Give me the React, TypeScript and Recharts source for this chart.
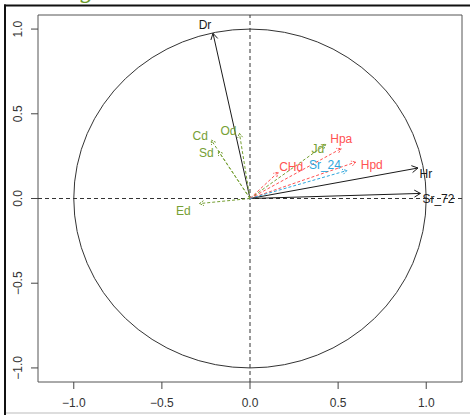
import React from 'react';
import { ComposedChart, XAxis, YAxis, Scatter, ReferenceLine, ReferenceArea } from 'recharts';

// ---- data ----
const variableNames = ['Dr', 'Hr', 'Sr_72', 'Cd', 'Od', 'Sd', 'Ed', 'Jd', 'Hpa', 'Hpd', 'CHd', 'Sr_24'];
const dim1 = [-0.21, 0.953, 0.967, -0.22, -0.06, -0.18, -0.287, 0.43, 0.518, 0.6, 0.16, 0.55];
const dim2 = [0.975, 0.18, 0.03, 0.345, 0.385, 0.28, -0.03, 0.32, 0.295, 0.215, 0.155, 0.165];
const variableGroups = ['active', 'active', 'active', 'green', 'green', 'green', 'green', 'green', 'red', 'red', 'red', 'blue'];
const xTicks = [-1, -0.5, 0, 0.5, 1];
const yTicks = [-1, -0.5, 0, 0.5, 1];
const xDomain = [-1.203, 1.203];
const yDomain = [-1.083, 1.083];

// ---- styles ----
const groupStyle: Record<string, { color: string; dash?: string; head: number }> = {
  active: { color: '#1a1a1a', head: 7 },
  green: { color: '#76a034', dash: '3 2', head: 5 },
  red: { color: '#ff5252', dash: '3 2', head: 5 },
  blue: { color: '#2ea6dc', dash: '3 2', head: 5 },
};

const labelNudge: Record<string, [number, number]> = {
  Dr: [-8, -8],
  Hr: [8, 6],
  Sr_72: [18, 6],
  Cd: [-11, -4],
  Od: [-11, -2],
  Sd: [-12, 2],
  Ed: [-16, 7],
  Jd: [-8, 5],
  Hpa: [0, -10],
  Hpd: [16, 3],
  CHd: [13, -5],
  Sr_24: [-22, -6],
};

const points = variableNames.map((name, i) => ({ name, x: dim1[i], y: dim2[i], group: variableGroups[i] }));

const fmt = (v: number) => (v < 0 ? '\u2212' : '') + Math.abs(v).toFixed(1);

const makeArrow = (group: string) => (p: any) => {
  const st = groupStyle[group];
  const { x1, y1, x2, y2 } = p;
  const a = Math.atan2(y2 - y1, x2 - x1);
  const L = st.head;
  const s = Math.PI / 6;
  const hx1 = x2 - L * Math.cos(a - s);
  const hy1 = y2 - L * Math.sin(a - s);
  const hx2 = x2 - L * Math.cos(a + s);
  const hy2 = y2 - L * Math.sin(a + s);
  return (
    <g>
      <line x1={x1} y1={y1} x2={x2} y2={y2} stroke={st.color} strokeWidth={1} strokeDasharray={st.dash} />
      <path d={`M${hx1},${hy1}L${x2},${y2}L${hx2},${hy2}`} fill="none" stroke={st.color} strokeWidth={1} strokeDasharray={st.dash ? '2 1' : undefined} />
    </g>
  );
};

const CircleShape = (p: any) => {
  const { x1, y1, x2, y2 } = p;
  return (
    <ellipse
      cx={(x1 + x2) / 2}
      cy={(y1 + y2) / 2}
      rx={Math.abs(x2 - x1) / 2}
      ry={Math.abs(y2 - y1) / 2}
      fill="none"
      stroke="#333"
      strokeWidth={1}
    />
  );
};

const LabelShape = (p: any) => {
  const { cx, cy, payload } = p;
  const nudge = labelNudge[payload.name] || [0, 0];
  const st = groupStyle[payload.group];
  return (
    <text
      x={cx + nudge[0]}
      y={cy + nudge[1]}
      textAnchor="middle"
      dominantBaseline="central"
      fontSize={12}
      fontFamily="'Liberation Sans', Arial, sans-serif"
      fill={st.color}
    >
      {payload.name}
    </text>
  );
};

const YTick = (p: any) => {
  const { x, y, payload } = p;
  return (
    <text
      x={x}
      y={y}
      transform={`rotate(-90 ${x} ${y})`}
      textAnchor="middle"
      fontSize={12}
      fontFamily="'Liberation Sans', Arial, sans-serif"
      fill="#333"
    >
      {fmt(payload.value)}
    </text>
  );
};

export default function App() {
  return (
    <div style={{ position: 'absolute', left: 0, top: 0, width: 470, height: 415, background: '#fff', overflow: 'hidden', fontFamily: "'Liberation Sans', Arial, sans-serif" }}>
      <svg width={470} height={415} style={{ position: 'absolute', left: 0, top: 0 }}>
        <text x={86} y={-2} textAnchor="middle" fontSize={24} fontFamily="'DejaVu Serif', serif" fill="#6a9a2a">g</text>
        <rect x={4} y={4.5} width={466} height={2} fill="#111" />
        <rect x={4} y={4.5} width={2} height={411} fill="#111" />
        <rect x={6} y={412.5} width={464} height={1} fill="#bbb" />
      </svg>
      <div style={{ position: 'absolute', left: 0, top: 0 }}>
        <ComposedChart width={470} height={415} margin={{ top: 15, right: 8, bottom: 8, left: 8 }}>
          <XAxis
            type="number"
            dataKey="x"
            domain={xDomain}
            ticks={xTicks}
            allowDataOverflow
            axisLine={false}
            tickLine={{ stroke: '#444' }}
            tickSize={7}
            tickMargin={9}
            height={25}
            tickFormatter={fmt}
            tick={{ fontSize: 12, fill: '#333', fontFamily: "'Liberation Sans', Arial, sans-serif" }}
          />
          <YAxis
            type="number"
            dataKey="y"
            domain={yDomain}
            ticks={yTicks}
            allowDataOverflow
            axisLine={false}
            tickLine={{ stroke: '#444' }}
            tickSize={7}
            tickMargin={9}
            width={30}
            tick={<YTick />}
          />
          <ReferenceArea x1={xDomain[0]} x2={xDomain[1]} y1={yDomain[0]} y2={yDomain[1]} fill="none" fillOpacity={0} stroke="#555" strokeWidth={1} ifOverflow="visible" />
          <ReferenceLine x={0} stroke="#333" strokeDasharray="4 3" />
          <ReferenceLine y={0} stroke="#333" strokeDasharray="4 3" />
          <ReferenceLine segment={[{ x: -1, y: -1 }, { x: 1, y: 1 }]} shape={CircleShape} ifOverflow="visible" />
          {points.map((pt) => (
            <ReferenceLine
              key={pt.name}
              segment={[{ x: 0, y: 0 }, { x: pt.x, y: pt.y }]}
              shape={makeArrow(pt.group)}
              ifOverflow="visible"
            />
          ))}
          <Scatter data={points} dataKey="y" shape={LabelShape} isAnimationActive={false} />
        </ComposedChart>
      </div>
    </div>
  );
}
